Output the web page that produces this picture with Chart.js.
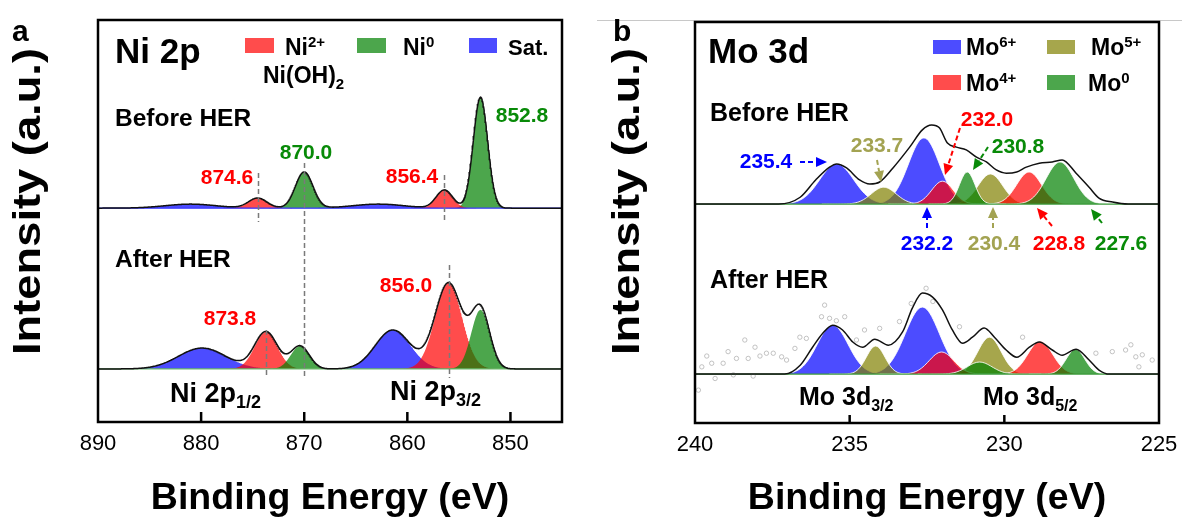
<!DOCTYPE html>
<html>
<head>
<meta charset="utf-8">
<script src="https://cdn.jsdelivr.net/npm/chart.js@4.4.1/dist/chart.umd.min.js"></script>
<style>
  body { margin: 0; background: #fff; }
  #wrap { position: relative; width: 1182px; height: 525px; }
  canvas { position: absolute; top: 0; }
  #niCanvas { left: 0; }
  #moCanvas { left: 591px; }
</style>
</head>
<body>
<div id="wrap">
  <canvas id="niCanvas" width="591" height="525"></canvas>
  <canvas id="moCanvas" width="591" height="525"></canvas>
</div>
<script>
// ---- data: every peak is [centre (eV), height (a.u.), sigma (eV)] ----

// (a) Ni 2p
const niRange = [845, 890];
const niTicks = [850, 860, 870, 880, 890];
const niBaseBefore = 53.2;
const niBaseAfter = 13.2;
const niBeforeNi2 = [[874.5, 2.5, 0.9], [856.4, 4.5, 0.8]];
const niBeforeNi0 = [[870.0, 9.0, 0.85], [852.9, 27.6, 0.7]];
const niBeforeSat = [[881.0, 1.0, 2.5], [862.8, 1.0, 2.5]];
const niAfterNi2 = [[873.7, 9.2, 1.1], [856.0, 21.4, 1.3]];
const niAfterNi0 = [[870.4, 5.7, 0.9], [852.9, 14.7, 0.9]];
const niAfterSat = [[879.9, 5.2, 2.3], [861.4, 9.7, 1.7]];

// (b) Mo 3d
const moRange = [225, 240];
const moTicks = [225, 230, 235, 240];
const moBaseBefore = 54.6;
const moBaseAfter = 12.2;
const moBefore6 = [[235.42, 10.0, 0.55], [232.6, 16.5, 0.5]];
const moBefore5 = [[233.9, 4.2, 0.4], [230.45, 7.5, 0.4]];
const moBefore4 = [[232.0, 5.7, 0.35], [229.2, 8.0, 0.4]];
const moBefore0 = [[231.2, 8.0, 0.25], [228.2, 10.5, 0.45]];
const moAfter6 = [[235.55, 12.2, 0.5], [232.65, 16.7, 0.55]];
const moAfter5 = [[234.16, 7.0, 0.3], [230.48, 9.2, 0.38]];
const moAfter4 = [[232.03, 5.5, 0.4], [228.84, 8.2, 0.4]];
const moAfter0 = [[230.8, 3.0, 0.4], [227.7, 6.2, 0.3]];

// fitted envelopes (height above the baseline)
const moBeforeEnvX = [240, 237.3, 236.6, 236.1, 235.65, 235.42, 235.1, 234.68, 234.35, 234.03, 233.6, 233.06, 232.65, 232.35, 232.1, 231.84, 231.55, 231.23, 230.9, 230.58, 230.26, 229.94, 229.6, 229.29, 228.87, 228.45, 228.13, 227.68, 227.26, 226.94, 226.5, 226.0, 225];
const moBeforeEnvY = [0, 0, 1.7, 6.0, 9.2, 10.0, 9.0, 6.0, 5.0, 5.5, 9.0, 14.2, 18.5, 19.7, 19.0, 15.2, 14.2, 13.5, 11.7, 10.5, 8.5, 7.7, 8.0, 9.2, 10.2, 10.5, 11.0, 7.7, 4.2, 1.5, 0.5, 0, 0];
const moAfterEnvX = [240, 237.1, 236.6, 236.2, 235.87, 235.55, 235.23, 234.9, 234.58, 234.19, 233.75, 233.29, 232.97, 232.65, 232.32, 232.0, 231.68, 231.35, 231.03, 230.65, 230.32, 229.94, 229.6, 229.19, 228.87, 228.45, 228.13, 227.68, 227.26, 226.94, 226.6, 225];
const moAfterEnvY = [0, 0, 2.2, 6.7, 10.2, 12.2, 11.0, 8.0, 6.7, 8.7, 7.2, 10.5, 16.5, 20.2, 19.2, 16.0, 11.0, 7.7, 9.2, 11.5, 9.2, 6.0, 4.2, 6.7, 8.0, 6.0, 4.7, 6.2, 3.5, 1.0, 0, 0];

// raw counts (after HER, Mo 3d) that scatter away from the fit
const moAfterRawX = [239.89, 239.78, 239.62, 239.46, 239.35, 239.09, 238.93, 238.76, 238.66, 238.39, 238.28, 238.12, 238.06, 237.90, 237.69, 237.47, 237.20, 237.04, 236.77, 236.61, 236.40, 235.91, 235.81, 235.65, 235.43, 235.16, 234.78, 234.52, 234.03, 233.39, 233.01, 232.53, 232.31, 231.45, 229.41, 227.04, 226.51, 226.08, 225.91, 225.75, 225.65, 225.54, 225.22];
const moAfterRawY = [8.2, 14.0, 16.7, 14.9, 11.1, 14.9, 17.8, 12.0, 16.1, 20.7, 16.1, 11.7, 18.9, 16.7, 17.4, 17.4, 16.5, 15.7, 18.6, 21.4, 21.1, 26.5, 29.4, 26.1, 25.5, 26.5, 20.7, 23.2, 23.6, 25.3, 29.8, 33.6, 30.3, 24.0, 21.4, 17.4, 17.8, 18.2, 19.5, 16.5, 14.0, 17.0, 15.7];

// ---- styling ----
const FONT = "'Liberation Sans', Arial, sans-serif";
Chart.defaults.font.family = FONT;
Chart.defaults.color = "#000";

const RED = "rgba(255, 0, 0, 0.7)";
const GREEN = "rgba(0, 128, 0, 0.7)";
const BLUE = "rgba(0, 0, 255, 0.7)";
const OLIVE = "rgba(128, 128, 0, 0.7)";
const T_RED = "#ff0000";
const T_GREEN = "#088a08";
const T_BLUE = "#0000ff";
const T_OLIVE = "#a3a352";

const gauss = (x, [c, h, s]) => h * Math.exp(-((x - c) ** 2) / (2 * s * s));

function peakSet(peak, base, range, color, edge) {
    const [c, , s] = peak;
    const lo = Math.max(range[0], c - 5 * s);
    const hi = Math.min(range[1], c + 5 * s);
    const data = [];
    for (let x = lo; x <= hi + 1e-9; x += 0.05) {
        data.push({ x, y: base + gauss(x, peak) });
    }
    return {
        data,
        backgroundColor: color,
        borderColor: edge || color,
        borderWidth: edge ? 1 : 0,
        fill: { value: base },
        pointRadius: 0,
    };
}

function envelopeSum(peaks, base, range) {
    const data = [];
    for (let x = range[0]; x <= range[1] + 1e-9; x += 0.05) {
        data.push({ x, y: base + peaks.reduce((t, p) => t + gauss(x, p), 0) });
    }
    return { data, borderColor: "#111", borderWidth: 1.5, fill: false, pointRadius: 0 };
}

function envelopeRead(xs, ys, base) {
    return {
        data: xs.map((x, i) => ({ x, y: base + ys[i] })),
        borderColor: "#111",
        borderWidth: 1.5,
        fill: false,
        pointRadius: 0,
        cubicInterpolationMode: "monotone",
    };
}

function baseline(base, range, color) {
    return {
        data: [{ x: range[0], y: base }, { x: range[1], y: base }],
        borderColor: color,
        borderWidth: 1.2,
        fill: false,
        pointRadius: 0,
    };
}

// ---- canvas helpers ----
function txt(ctx, str, x, y, size, color = "#000", align = "left", bold = true) {
    ctx.font = `${bold ? "bold " : ""}${size}px ${FONT}`;
    ctx.fillStyle = color;
    ctx.textAlign = align;
    ctx.textBaseline = "alphabetic";
    ctx.fillText(str, x, y);
    return ctx.measureText(str).width;
}

// parts: [text, size, rise]
function rich(ctx, parts, x, y, color = "#000") {
    let cx = x;
    parts.forEach(([t, size, rise]) => {
        cx += txt(ctx, t, cx, y - rise, size, color);
    });
}

function arrow(ctx, x1, y1, x2, y2, color) {
    const ang = Math.atan2(y2 - y1, x2 - x1);
    const head = 11, half = 5;
    const bx = x2 - head * Math.cos(ang);
    const by = y2 - head * Math.sin(ang);
    ctx.strokeStyle = color;
    ctx.fillStyle = color;
    ctx.lineWidth = 2;
    ctx.setLineDash([5, 3]);
    ctx.beginPath();
    ctx.moveTo(x1, y1);
    ctx.lineTo(bx, by);
    ctx.stroke();
    ctx.setLineDash([]);
    ctx.beginPath();
    ctx.moveTo(x2, y2);
    ctx.lineTo(bx + half * Math.sin(ang), by - half * Math.cos(ang));
    ctx.lineTo(bx - half * Math.sin(ang), by + half * Math.cos(ang));
    ctx.closePath();
    ctx.fill();
}

// frame, inner ticks, y title and panel letter
function frameDecor(opts) {
    return {
        id: "frame" + opts.letter,
        afterDatasetsDraw(chart) {
            const { ctx, chartArea: a, scales: { x } } = chart;
            ctx.save();
            if (opts.extra) opts.extra(ctx, x, a);
            ctx.setLineDash([]);
            ctx.strokeStyle = "#000";
            ctx.lineWidth = 2.5;
            ctx.strokeRect(a.left, a.top, a.right - a.left, a.bottom - a.top);
            opts.innerTicks.forEach((v) => {
                const px = x.getPixelForValue(v);
                ctx.beginPath();
                ctx.moveTo(px, a.bottom);
                ctx.lineTo(px, a.bottom - opts.tickLen);
                ctx.stroke();
            });
            // y title, stretched to the reference length
            ctx.translate(opts.titleX, 201.5);
            ctx.rotate(-Math.PI / 2);
            ctx.font = `bold 38px ${FONT}`;
            const w = ctx.measureText("Intensity (a.u.)").width;
            ctx.scale(307 / w, 1);
            ctx.fillStyle = "#000";
            ctx.textAlign = "center";
            ctx.textBaseline = "middle";
            ctx.fillText("Intensity (a.u.)", 0, 0);
            ctx.restore();
            ctx.save();
            txt(ctx, opts.letter, opts.letterX, 41, 30);
            ctx.restore();
        },
    };
}

function makeChart(id, datasets, range, ticks, pad, axisH, plugins) {
    return new Chart(document.getElementById(id), {
        type: "line",
        data: { datasets },
        options: {
            responsive: false,
            animation: false,
            devicePixelRatio: 1,
            layout: { padding: pad },
            plugins: { legend: { display: false }, tooltip: { enabled: false } },
            scales: {
                x: {
                    type: "linear",
                    reverse: true,
                    min: range[0],
                    max: range[1],
                    afterBuildTicks: (s) => {
                        s.ticks = ticks.map((v) => ({ value: v }));
                    },
                    afterFit: (s) => {
                        s.height = axisH;
                    },
                    grid: { display: false },
                    border: { display: false },
                    ticks: {
                        autoSkip: false,
                        maxRotation: 0,
                        padding: 1,
                        color: "#000",
                        font: { size: 22 },
                    },
                    title: {
                        display: true,
                        text: "Binding Energy (eV)",
                        color: "#000",
                        font: { size: 37.5, weight: "bold" },
                        padding: { top: 0, bottom: 4 },
                    },
                },
                y: { display: false, min: 0, max: 100 },
            },
        },
        plugins,
    });
}

document.addEventListener("DOMContentLoaded", () => {
    // Panel a
    const niDatasets = [
        envelopeSum([...niBeforeNi2, ...niBeforeNi0, ...niBeforeSat], niBaseBefore, niRange),
        envelopeSum([...niAfterNi2, ...niAfterNi0, ...niAfterSat], niBaseAfter, niRange),
        baseline(niBaseBefore, niRange, "#3a3aff"),
        baseline(niBaseAfter, niRange, "#6ab86a"),
        ...niBeforeNi2.map((p) => peakSet(p, niBaseBefore, niRange, RED)),
        ...niBeforeNi0.map((p) => peakSet(p, niBaseBefore, niRange, GREEN)),
        ...niBeforeSat.map((p) => peakSet(p, niBaseBefore, niRange, BLUE)),
        ...niAfterNi0.map((p) => peakSet(p, niBaseAfter, niRange, GREEN)),
        ...niAfterNi2.map((p) => peakSet(p, niBaseAfter, niRange, RED)),
        ...niAfterSat.map((p) => peakSet(p, niBaseAfter, niRange, BLUE)),
    ];

    const niDecor = frameDecor({
        letter: "a",
        letterX: 12,
        titleX: 30,
        innerTicks: [880, 870, 860, 850],
        tickLen: 10,
        extra(ctx, x) {
            // dashed guides at the labelled peaks
            ctx.strokeStyle = "#7a7a7a";
            ctx.lineWidth = 1.5;
            ctx.setLineDash([5, 3]);
            [[874.5, 173, 222], [856.4, 175, 222], [870.0, 163, 378], [873.7, 330, 378], [856.0, 265, 378]]
                .forEach(([e, y1, y2]) => {
                    const px = Math.round(x.getPixelForValue(e)) + 0.5;
                    ctx.beginPath();
                    ctx.moveTo(px, y1);
                    ctx.lineTo(px, y2);
                    ctx.stroke();
                });
            ctx.setLineDash([]);

            txt(ctx, "Ni 2p", 115, 63, 35);
            txt(ctx, "Before HER", 115, 126, 24.5);
            txt(ctx, "After HER", 115, 267, 24.5);

            [["874.6", 227, 184, T_RED], ["870.0", 306, 159, T_GREEN], ["856.4", 412, 183, T_RED],
             ["852.8", 522, 122, T_GREEN], ["873.8", 230, 325, T_RED], ["856.0", 406, 292, T_RED]]
                .forEach(([t, lx, ly, c]) => txt(ctx, t, lx, ly, 21, c, "center"));

            // legend
            ctx.fillStyle = RED; ctx.fillRect(245, 38, 29, 15);
            ctx.fillStyle = GREEN; ctx.fillRect(357, 38, 29, 15);
            ctx.fillStyle = BLUE; ctx.fillRect(469, 38, 28, 15);
            rich(ctx, [["Ni", 23, 0], ["2+", 15, 8]], 285, 55);
            rich(ctx, [["Ni(OH)", 23, 0], ["2", 15, -6]], 263, 83);
            rich(ctx, [["Ni", 23, 0], ["0", 15, 8]], 403, 55);
            txt(ctx, "Sat.", 508, 55, 22);

            rich(ctx, [["Ni 2p", 27, 0], ["1/2", 18, -6]], 170, 402);
            rich(ctx, [["Ni 2p", 27, 0], ["3/2", 18, -6]], 390, 400);
        },
    });

    makeChart("niCanvas", niDatasets, niRange, niTicks,
        { left: 98, right: 29, top: 20, bottom: 0 }, 103, [niDecor]);

    // Panel b
    const EDGE = "rgba(255, 255, 255, 0.85)";
    const moDatasets = [
        envelopeRead(moBeforeEnvX, moBeforeEnvY, moBaseBefore),
        envelopeRead(moAfterEnvX, moAfterEnvY, moBaseAfter),
        {
            data: moAfterRawX.map((x, i) => ({ x, y: moAfterRawY[i] })),
            showLine: false,
            pointRadius: 2.2,
            pointBorderWidth: 0.8,
            pointBorderColor: "#b4b4b4",
            pointBackgroundColor: "rgba(0,0,0,0)",
        },
        baseline(moBaseBefore, moRange, "#3a9a3a"),
        baseline(moBaseAfter, moRange, "#3a9a3a"),
        ...moBefore0.map((p) => peakSet(p, moBaseBefore, moRange, GREEN, EDGE)),
        ...moBefore4.map((p) => peakSet(p, moBaseBefore, moRange, RED, EDGE)),
        ...moBefore5.map((p) => peakSet(p, moBaseBefore, moRange, OLIVE, EDGE)),
        ...moBefore6.map((p) => peakSet(p, moBaseBefore, moRange, BLUE, EDGE)),
        ...moAfter0.map((p) => peakSet(p, moBaseAfter, moRange, GREEN, EDGE)),
        ...moAfter4.map((p) => peakSet(p, moBaseAfter, moRange, RED, EDGE)),
        ...moAfter5.map((p) => peakSet(p, moBaseAfter, moRange, OLIVE, EDGE)),
        ...moAfter6.map((p) => peakSet(p, moBaseAfter, moRange, BLUE, EDGE)),
    ];

    const moDecor = frameDecor({
        letter: "b",
        letterX: 22,
        titleX: 38,
        innerTicks: [235, 230],
        tickLen: 8,
        extra(ctx) {
            ctx.strokeStyle = "#c8c8c8";
            ctx.lineWidth = 1;
            ctx.beginPath();
            ctx.moveTo(6, 20.5);
            ctx.lineTo(591, 20.5);
            ctx.stroke();

            txt(ctx, "Mo 3d", 117, 63, 35);
            txt(ctx, "Before HER", 119, 121, 25);
            txt(ctx, "After HER", 119, 288, 25);

            [["235.4", 175, 168, T_BLUE], ["233.7", 286, 152, T_OLIVE], ["232.0", 396, 126, T_RED],
             ["230.8", 427, 153, T_GREEN], ["232.2", 336, 250, T_BLUE], ["230.4", 403, 250, T_OLIVE],
             ["228.8", 468, 250, T_RED], ["227.6", 530, 250, T_GREEN]]
                .forEach(([t, lx, ly, c]) => txt(ctx, t, lx, ly, 21, c, "center"));

            arrow(ctx, 209, 162, 236, 162, T_BLUE);
            arrow(ctx, 286, 160, 290, 182, T_OLIVE);
            arrow(ctx, 369, 128, 354, 175, T_RED);
            arrow(ctx, 397, 147, 382, 170, T_GREEN);
            arrow(ctx, 336, 228, 336, 207, T_BLUE);
            arrow(ctx, 402, 228, 402, 207, T_OLIVE);
            arrow(ctx, 461, 226, 446, 208, T_RED);
            arrow(ctx, 511, 223, 500, 209, T_GREEN);

            // legend
            ctx.fillStyle = BLUE; ctx.fillRect(342, 40, 28, 14);
            ctx.fillStyle = OLIVE; ctx.fillRect(456, 40, 28, 14);
            ctx.fillStyle = RED; ctx.fillRect(342, 75, 28, 15);
            ctx.fillStyle = GREEN; ctx.fillRect(456, 75, 28, 15);
            rich(ctx, [["Mo", 23, 0], ["6+", 15, 8]], 375, 55);
            rich(ctx, [["Mo", 23, 0], ["5+", 15, 8]], 500, 55);
            rich(ctx, [["Mo", 23, 0], ["4+", 15, 8]], 375, 91);
            rich(ctx, [["Mo", 23, 0], ["0", 15, 8]], 497, 91);

            rich(ctx, [["Mo 3d", 25, 0], ["3/2", 16, -6]], 208, 405);
            rich(ctx, [["Mo 3d", 25, 0], ["5/2", 16, -6]], 392, 405);
        },
    });

    makeChart("moCanvas", moDatasets, moRange, moTicks,
        { left: 104, right: 23, top: 22, bottom: 0 }, 102, [moDecor]);
});
</script>
</body>
</html>
